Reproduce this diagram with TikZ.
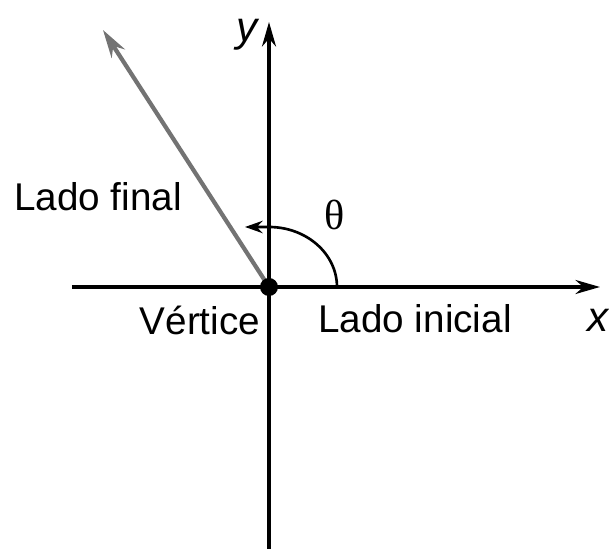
\documentclass[tikz,border=0pt]{standalone}
\usepackage{fontspec}
\setmainfont{Liberation Sans}
\newfontfamily\thetafont{Liberation Serif}
\usetikzlibrary{arrows.meta}
\tikzset{
  axis/.style={line width=1.8pt,-{Stealth[length=14pt,width=8pt]}},
  lado/.style={font=\fontsize{22}{24}\selectfont}
}
\begin{document}
\begin{tikzpicture}[x=0.02cm,y=0.02cm]
  \useasboundingbox (-269,-266) rectangle (340,287);
  \coordinate (O) at (0,0);
  \coordinate (xl) at (-197,0);
  \coordinate (xr) at (331,0);
  \coordinate (yb) at (0,-262);
  \coordinate (yt) at (0,265);
  \coordinate (tip) at (-166,257);
  \draw[axis] (xl) -- (xr);
  \draw[axis] (yb) -- (yt);
  \draw[line width=2.4pt,black!55,-{Stealth[length=16pt,width=9pt]}] (O) -- (tip);
  \draw[line width=1.5pt,-{Stealth[length=10pt,width=7pt]}] (68,0) arc[start angle=0,end angle=90,x radius=68,y radius=60] -- ++(-24,0);
  \fill (O) circle (9);
    \node (ylab) at (-22,252) {\fontsize{24}{24}\selectfont\itshape y};
    \node (xlab) at (329,-33) {\fontsize{24}{24}\selectfont\itshape x};
    \node[lado] (final) at (-171,90) {Lado final};
    \node[lado] (vert) at (-69,-33) {Vértice};
    \node[lado] (inicial) at (146,-32) {Lado inicial};
    \node (theta) at (66,72) {\fontsize{24}{24}\selectfont\thetafont θ};
\end{tikzpicture}
\end{document}
